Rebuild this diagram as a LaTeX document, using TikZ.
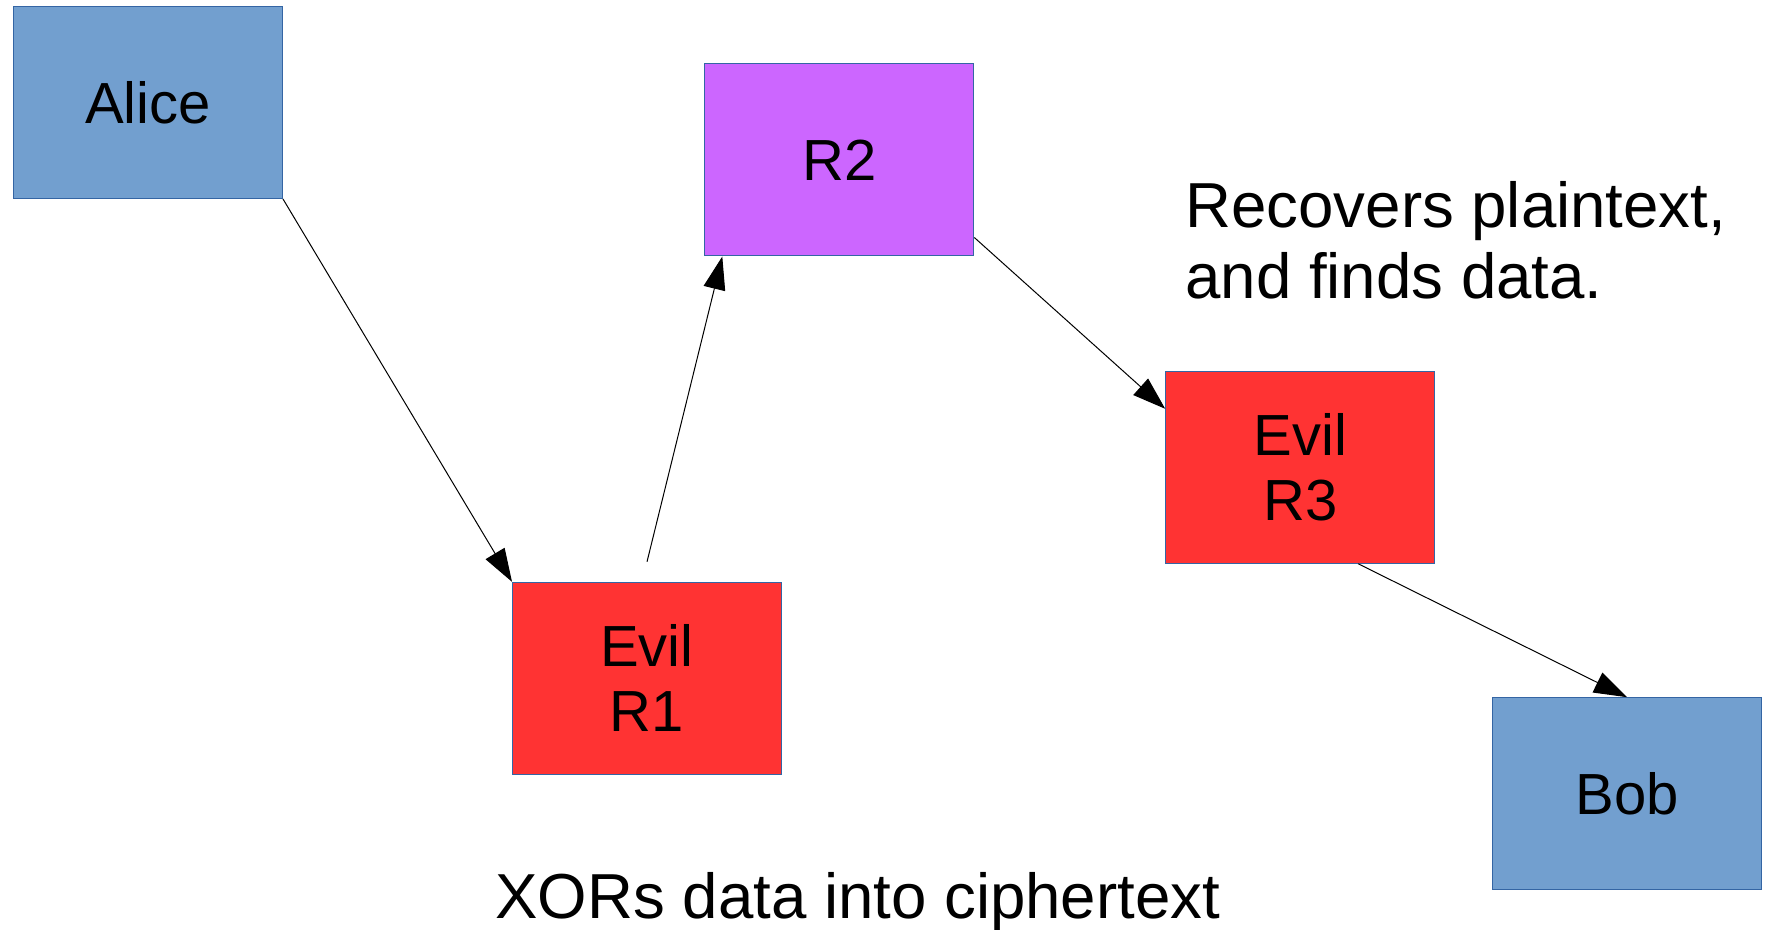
\documentclass[tikz,border=0pt]{standalone}
\usepackage{fontspec}
\setmainfont{Liberation Sans}
\usetikzlibrary{arrows.meta,calc}
\definecolor{hostblue}{HTML}{729FCF}
\definecolor{evilred}{HTML}{FF3333}
\definecolor{routerpurple}{HTML}{CC66FF}
\definecolor{boxline}{HTML}{3465A4}
\begin{document}
\begin{tikzpicture}[x=0.5pt,y=-0.5pt,
  box/.style={draw=boxline, line width=0.5pt, minimum width=134.5pt,
    minimum height=96pt, inner sep=0pt, align=center,
    font=\fontsize{29}{32.5}\selectfont},
  note/.style={inner sep=0pt, font=\fontsize{31.8}{36}\selectfont},
  arr/.style={draw=black, line width=0.5pt,
    -{Triangle[length=16.5pt,width=11pt]}}]
\useasboundingbox (0,0) rectangle (1767,930);

% hosts and routers
\node[box, fill=hostblue]     (alice) at (148,102.5)   {Alice};
\node[box, fill=routerpurple] (r2)    at (839.3,160)   {R2};
\node[box, fill=evilred]      (r1)    at (647,678.3)   {Evil\\R1};
\node[box, fill=evilred]      (r3)    at (1300.2,467.3) {Evil\\R3};
\node[box, fill=hostblue]     (bob)   at (1627,793.7)  {Bob};

% packet path
\coordinate (r1out) at ($(r1.north)+(0,-20)$);
\draw[arr] (alice.south east) -- (r1.north west);
\draw[arr] (r1out) -- ($(r2.south west)+(18,0)$);
\draw[arr] ($(r2.south east)+(0,-19)$) -- ($(r3.north west)+(0,38)$);
\draw[arr] ($(r3.south)+(58,0)$) -- (bob.north);

% annotations
\node[note, anchor=base west] (rec1) at (1185,227.5) {Recovers plaintext,};
\node[note, anchor=base west] (rec2) at (1185,298.5) {and finds data.};
\node[note, anchor=base west] (xor)  at (495,918.5)  {XORs data into ciphertext};
\end{tikzpicture}
\end{document}
